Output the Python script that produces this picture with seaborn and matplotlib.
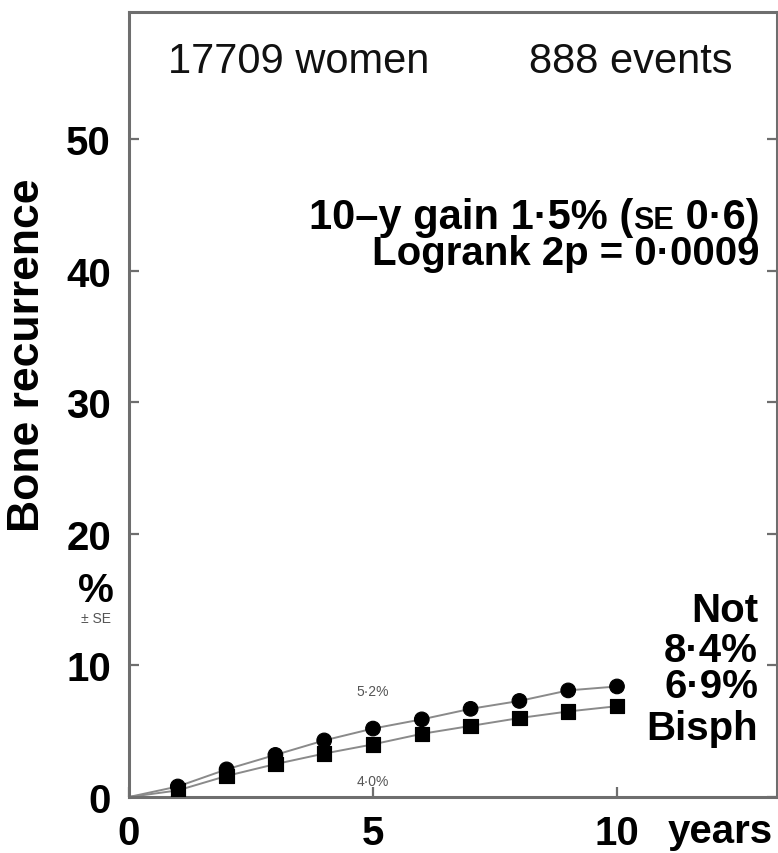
import matplotlib
matplotlib.use("Agg")
import matplotlib.pyplot as plt
from matplotlib.offsetbox import TextArea, HPacker, AnnotationBbox
import numpy as np
import pandas as pd
import seaborn as sns

# Cumulative bone recurrence (%), by year of follow-up
years = [0, 1, 2, 3, 4, 5, 6, 7, 8, 9, 10]
not_pct = [0.0, 0.8, 2.1, 3.2, 4.3, 5.2, 5.9, 6.7, 7.3, 8.1, 8.4]
bisph_pct = [0.0, 0.5, 1.6, 2.5, 3.3, 4.0, 4.8, 5.4, 6.0, 6.5, 6.9]
not_se = [0.0, 0.1, 0.2, 0.25, 0.25, 0.25, 0.25, 0.3, 0.3, 0.3, 0.3]
bisph_se = [0.0, 0.1, 0.2, 0.25, 0.25, 0.25, 0.25, 0.3, 0.3, 0.3, 0.3]
groups = ["Not", "Bisph"]
x_ticks = [0, 5, 10]
y_ticks = [0, 10, 20, 30, 40, 50]

df = pd.concat([
    pd.DataFrame({"year": years, "pct": not_pct, "se": not_se, "group": groups[0]}),
    pd.DataFrame({"year": years, "pct": bisph_pct, "se": bisph_se, "group": groups[1]}),
], ignore_index=True)

sns.set_style("ticks")
plt.rcParams["font.family"] = ["Liberation Sans", "DejaVu Sans"]

W, H = 778, 854
fig = plt.figure(figsize=(W / 100, H / 100), dpi=100)
ax_l, ax_r, ax_t, ax_b = 129, 777, 13, 798
ax = fig.add_axes([ax_l / W, 1 - ax_b / H, (ax_r - ax_l) / W, (ax_b - ax_t) / H])

line_grey = "#8a8a8a"
sns.lineplot(data=df, x="year", y="pct", hue="group",
             palette={g: line_grey for g in groups}, linewidth=1.4,
             legend=False, ax=ax, zorder=2)

pts = df[df["year"] > 0]
for g in groups:
    sub = pts[pts["group"] == g]
    ax.errorbar(sub["year"], sub["pct"], yerr=sub["se"], fmt="none",
                ecolor="black", elinewidth=2.0, capsize=0, zorder=3)
sns.scatterplot(data=pts, x="year", y="pct", style="group",
                markers={"Not": "o", "Bisph": "s"}, color="black",
                edgecolor="black", s=110, legend=False, ax=ax, zorder=4)

# axis ranges follow the frame: 48.8 px per year, 13.16 px per percent
ax.set_xlim(0, (ax_r - ax_l) / 48.8)
ax.set_ylim(0, (ax_b - ax_t) / 13.16)
ax.set_xticks(x_ticks)
ax.set_yticks(y_ticks)
ax.set_xticklabels([str(v) for v in x_ticks])
ax.set_yticklabels([str(v) for v in y_ticks])
ax.set_xlabel("")
ax.set_ylabel("")

for side in ["left", "right", "top", "bottom"]:
    ax.spines[side].set_visible(True)
    ax.spines[side].set_color("#6e6e6e")
    ax.spines[side].set_linewidth(2.2)

ax.tick_params(axis="both", direction="in", length=7, width=1.6,
               color="#6e6e6e", labelsize=29, labelcolor="black")
ax.tick_params(axis="y", right=True, pad=13)
ax.tick_params(axis="x", pad=12)
for lab in ax.get_xticklabels() + ax.get_yticklabels():
    lab.set_fontweight("bold")

bold = dict(fontsize=29, fontweight="bold", color="black")

# header
ax.text(3.48, 55.1, "17709 women", ha="center", va="baseline", fontsize=30, color="#111111")
ax.text(10.29, 55.1, "888 events", ha="center", va="baseline", fontsize=30, color="#111111")

# gain line with small-caps SE
gain_props = dict(fontsize=30, fontweight="bold", color="black")
parts = [TextArea("10–y gain 1·5% (", textprops=gain_props),
         TextArea("SE", textprops=dict(fontsize=22, fontweight="bold", color="black")),
         TextArea(" 0·6)", textprops=gain_props)]
gain_box = HPacker(children=parts, align="baseline", pad=0, sep=0)
ax.add_artist(AnnotationBbox(gain_box, (12.93, 43.2), xycoords="data",
                             box_alignment=(1, 0.22), frameon=False, pad=0))
ax.text(12.93, 40.5, "Logrank 2p = 0·0009", ha="right", va="baseline", **bold)

# group labels at the right end
ax.text(12.89, 13.4, "Not", ha="right", va="baseline", **bold)
ax.text(12.89, 10.3, "8·4%", ha="right", va="baseline", **bold)
ax.text(12.89, 7.6, "6·9%", ha="right", va="baseline", **bold)
ax.text(12.89, 4.4, "Bisph", ha="right", va="baseline", **bold)

# 5-year values
ax.text(5, not_pct[5] + 2.85, f"{not_pct[5]:.1f}%".replace(".", "·"),
        ha="center", va="center", fontsize=10, color="#555555")
ax.text(5, bisph_pct[5] - 2.8, f"{bisph_pct[5]:.1f}%".replace(".", "·"),
        ha="center", va="center", fontsize=10, color="#555555")

# axis titles
fig.text(28 / W, 1 - 355 / H, "Bone recurrence", rotation=90, ha="center",
         va="center", fontsize=32, fontweight="bold", color="black")
fig.text(96 / W, 1 - 591 / H, "%", ha="center", va="center", **bold)
fig.text(96 / W, 1 - 619 / H, "± SE", ha="center", va="center", fontsize=10,
         color="#555555")
fig.text(720 / W, 1 - 832 / H, "years", ha="center", va="center", **bold)

fig.savefig("out.png", dpi=100)
